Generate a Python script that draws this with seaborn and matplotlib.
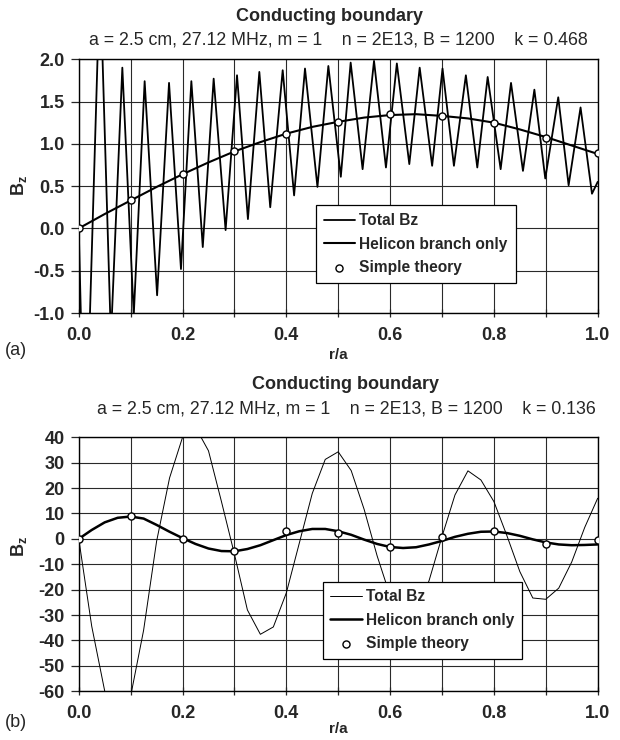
# Recreación de la figura "Conducting boundary" (paneles a y b)
# =============================================================

import matplotlib
matplotlib.use("Agg")
import matplotlib.pyplot as plt
from matplotlib.ticker import MultipleLocator, FormatStrFormatter
import seaborn as sns

# -------------------------------------------------------------
# DATOS
# -------------------------------------------------------------

# Panel (a): Total Bz, picos y valles de la oscilación
R_TOTAL_A = [0.0, 0.012, 0.041, 0.062, 0.084, 0.106, 0.127, 0.151, 0.174, 0.197,
             0.217, 0.239, 0.260, 0.283, 0.305, 0.326, 0.348, 0.369, 0.393, 0.415,
             0.436, 0.460, 0.481, 0.505, 0.524, 0.547, 0.569, 0.592, 0.613, 0.637,
             0.657, 0.681, 0.701, 0.723, 0.746, 0.768, 0.788, 0.813, 0.833, 0.856,
             0.878, 0.899, 0.924, 0.944, 0.967, 0.989, 1.0]
BZ_TOTAL_A = [0.0, -3.0, 3.0, -1.3, 1.90, -1.03, 1.74, -0.79, 1.72, -0.48,
              1.74, -0.22, 1.77, -0.02, 1.81, 0.11, 1.85, 0.25, 1.87, 0.39,
              1.89, 0.49, 1.92, 0.61, 1.96, 0.70, 1.98, 0.72, 1.95, 0.76,
              1.90, 0.74, 1.89, 0.74, 1.81, 0.72, 1.79, 0.70, 1.72, 0.68,
              1.64, 0.59, 1.55, 0.51, 1.43, 0.41, 0.55]

# Panel (a): rama helicón
R_HELICON_A = [0.0, 0.05, 0.1, 0.15, 0.2, 0.25, 0.3, 0.35, 0.4, 0.45, 0.5,
               0.55, 0.6, 0.65, 0.7, 0.75, 0.8, 0.85, 0.9, 0.95, 1.0]
BZ_HELICON_A = [0.0, 0.17, 0.33, 0.49, 0.64, 0.78, 0.91, 1.02, 1.12, 1.20, 1.26,
                1.31, 1.34, 1.35, 1.33, 1.30, 1.25, 1.17, 1.08, 0.98, 0.88]

# Panel (b): Total Bz y rama helicón (paso 0.025)
R_B = [0.0, 0.025, 0.05, 0.075, 0.1, 0.125, 0.15, 0.175, 0.2, 0.225,
       0.25, 0.275, 0.3, 0.325, 0.35, 0.375, 0.4, 0.425, 0.45, 0.475,
       0.5, 0.525, 0.55, 0.575, 0.6, 0.625, 0.65, 0.675, 0.7, 0.725,
       0.75, 0.775, 0.8, 0.825, 0.85, 0.875, 0.9, 0.925, 0.95, 0.975, 1.0]
BZ_TOTAL_B = [0.0, -34.4, -59.9, -70.0, -62.0, -36.0, -1.0, 24.0, 40.0, 44.0,
              34.7, 14.7, -6.0, -28.0, -37.6, -34.7, -21.3, -1.7, 17.9, 31.3,
              34.3, 26.9, 11.6, -6.7, -22.4, -30.5, -28.4, -16.5, 0.9, 17.3,
              26.8, 23.2, 14.7, 1.3, -12.9, -23.3, -23.8, -19.4, -9.1, 4.5, 16.0]
BZ_HELICON_B = [0.0, 3.5, 6.5, 8.3, 8.8, 8.0, 5.5, 2.8, 0.3, -2.0,
                -3.8, -4.8, -4.9, -4.0, -2.5, -0.5, 1.5, 3.0, 3.9, 3.9,
                3.0, 1.6, -0.3, -2.0, -3.2, -3.6, -3.3, -2.2, -0.8, 0.8,
                2.0, 2.8, 2.9, 2.3, 1.2, -0.2, -1.4, -2.2, -2.5, -2.4, -2.2]

# Teoría simple (ambos paneles)
R_TEORIA = [0.0, 0.1, 0.2, 0.3, 0.4, 0.5, 0.6, 0.7, 0.8, 0.9, 1.0]
BZ_TEORIA_A = [0.0, 0.33, 0.64, 0.91, 1.12, 1.26, 1.35, 1.33, 1.25, 1.07, 0.89]
BZ_TEORIA_B = [0.0, 8.9, 0.1, -4.8, 3.0, 2.3, -3.2, 0.75, 3.1, -1.9, -0.55]

TITULO = "Conducting boundary"
SUBTITULO_A = "a = 2.5 cm, 27.12 MHz, m = 1    n = 2E13, B = 1200    k = 0.468"
SUBTITULO_B = "a = 2.5 cm, 27.12 MHz, m = 1    n = 2E13, B = 1200    k = 0.136"

# -------------------------------------------------------------
# CONFIGURACIÓN
# -------------------------------------------------------------

sns.set_style("ticks")
plt.rcParams["font.family"] = ["Liberation Sans", "DejaVu Sans"]
plt.rcParams["mathtext.fontset"] = "custom"
plt.rcParams["mathtext.rm"] = "Liberation Sans"
plt.rcParams["mathtext.bf"] = "Liberation Sans:bold"

GRIS_REJILLA = "#2a2a2a"


def dibujar_panel(ax, r_tot, bz_tot, r_hel, bz_hel, bz_teo,
                  lw_total, lw_helicon, ylim, ypaso, yfmt, pos_leyenda):
    """
    Dibuja un panel con las tres series y la rejilla tipo Excel.
    """
    sns.lineplot(x=r_tot, y=bz_tot, ax=ax, color="black", linewidth=lw_total,
                 estimator=None, sort=False, label="Total Bz", zorder=3)
    sns.lineplot(x=r_hel, y=bz_hel, ax=ax, color="black", linewidth=lw_helicon,
                 estimator=None, sort=False, label="Helicon branch only", zorder=4)
    sns.scatterplot(x=R_TEORIA, y=bz_teo, ax=ax, marker="o", s=26,
                    facecolor="white", edgecolor="black", linewidth=1.0,
                    label="Simple theory", zorder=5)

    ax.set_xlim(0, 1)
    ax.set_ylim(*ylim)
    ax.xaxis.set_major_locator(MultipleLocator(0.2))
    ax.xaxis.set_minor_locator(MultipleLocator(0.1))
    ax.xaxis.set_major_formatter(FormatStrFormatter("%.1f"))
    ax.yaxis.set_major_locator(MultipleLocator(ypaso))
    ax.yaxis.set_major_formatter(FormatStrFormatter(yfmt))

    ax.grid(which="both", color=GRIS_REJILLA, linewidth=0.8)
    ax.tick_params(axis="x", which="both", direction="inout", length=6,
                   width=0.9, pad=7, labelsize=13)
    ax.tick_params(axis="y", which="major", direction="out", length=6,
                   width=0.9, pad=4, labelsize=13)
    for etiqueta in ax.get_xticklabels() + ax.get_yticklabels():
        etiqueta.set_fontweight("bold")
    for lado in ax.spines.values():
        lado.set_color("black")
        lado.set_linewidth(1.0)

    ax.set_xlabel("")
    ax.set_ylabel("")

    leyenda = ax.legend(loc="lower left", bbox_to_anchor=pos_leyenda,
                        frameon=True, fancybox=False, framealpha=1.0,
                        edgecolor="black", borderaxespad=0,
                        prop={"size": 11.2, "weight": "bold"},
                        handlelength=2.0, handletextpad=0.3,
                        borderpad=0.5, labelspacing=0.55, scatterpoints=1)
    leyenda.get_frame().set_linewidth(0.9)
    leyenda.set_zorder(10)


# -------------------------------------------------------------
# FIGURA
# -------------------------------------------------------------

fig = plt.figure(figsize=(6.2, 7.4), dpi=100)
ax_a = fig.add_axes([0.127, 0.577, 0.837, 0.343])
ax_b = fig.add_axes([0.127, 0.066, 0.837, 0.343])

dibujar_panel(ax_a, R_TOTAL_A, BZ_TOTAL_A, R_HELICON_A, BZ_HELICON_A, BZ_TEORIA_A,
              1.3, 1.5, (-1.0, 2.0), 0.5, "%.1f", (0.457, 0.118))
dibujar_panel(ax_b, R_B, BZ_TOTAL_B, R_B, BZ_HELICON_B, BZ_TEORIA_B,
              0.7, 1.8, (-60, 40), 10, "%d", (0.470, 0.126))

# Títulos y etiquetas
for x_tit, y_tit, x_sub, y_sub, texto_sub in [(0.531, 0.978, 0.545, 0.946, SUBTITULO_A),
                                              (0.558, 0.480, 0.558, 0.447, SUBTITULO_B)]:
    fig.text(x_tit, y_tit, TITULO, ha="center", va="center",
             fontsize=13, fontweight="bold")
    fig.text(x_sub, y_sub, texto_sub, ha="center", va="center", fontsize=12.8)

for y_r, y_b, y_let, letra in [(0.520, 0.750, 0.527, "(a)"), (0.015, 0.262, 0.024, "(b)")]:
    fig.text(0.545, y_r, "r/a", ha="center", va="center",
             fontsize=11, fontweight="bold")
    fig.text(0.030, y_b, r"B$_\mathregular{z}$", ha="center", va="center",
             rotation=90, fontsize=13, fontweight="bold")
    fig.text(0.025, y_let, letra, ha="center", va="center", fontsize=13)

fig.savefig("out.png", dpi=100)
plt.close(fig)
